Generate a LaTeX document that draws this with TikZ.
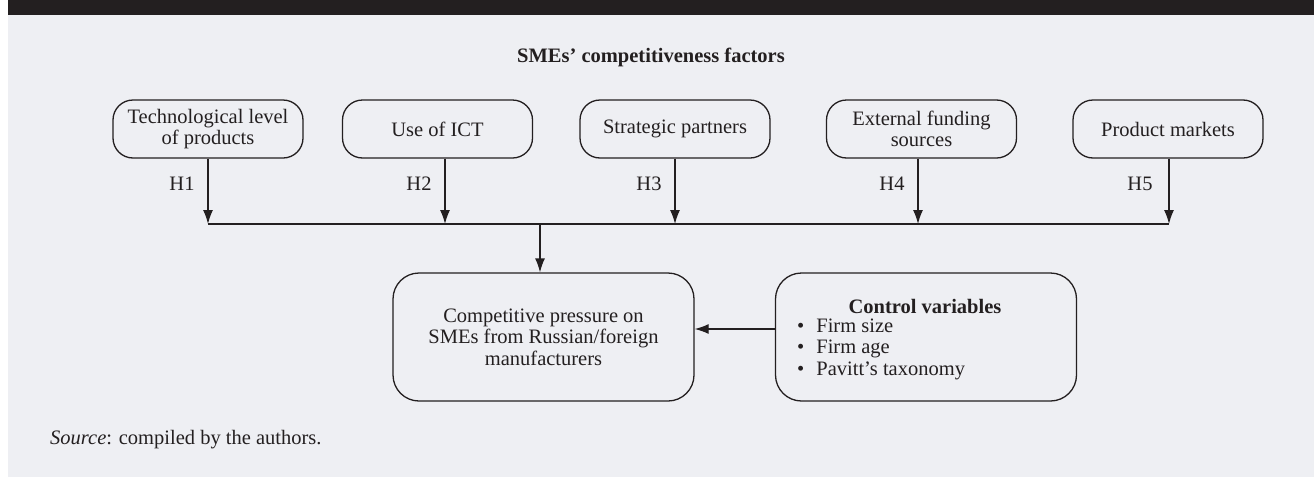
\documentclass[tikz,border=0pt]{standalone}
\usepackage{fontspec}
\setmainfont{Liberation Serif}
\usetikzlibrary{arrows.meta}
\definecolor{ink}{RGB}{35,31,32}
\definecolor{panel}{RGB}{238,239,243}
\begin{document}
\begin{tikzpicture}[x=1pt,y=-1pt,
  every node/.style={font=\fontsize{20.5}{21.5}\selectfont, text=ink},
  factor/.style={draw=ink, line width=1.3pt, rounded corners=20pt, minimum width=190pt, minimum height=58pt, align=center, inner sep=0pt},
  bigbox/.style={draw=ink, line width=1.3pt, rounded corners=26pt, minimum width=301pt, minimum height=128pt, align=center, inner sep=0pt},
  link/.style={draw=ink, line width=1.3pt},
  arr/.style={link, -{Latex[length=14pt,width=10pt]}},
  hyp/.style={anchor=center, inner sep=0pt}]
\useasboundingbox (0,0) rectangle (1314,477);
\fill[panel] (8,15) rectangle (1314,477);
\fill[ink] (8,0) rectangle (1314,15);

\node[font=\fontsize{20.5}{21.5}\selectfont\bfseries] (title) at (651,57) {SMEs’ competitiveness factors};

\node[factor] (b1) at (208,129) {Technological level\\of products};
\node[factor] (b2) at (437.5,129) {Use of ICT};
\node[factor] (b3) at (675,129) {Strategic partners};
\node[factor] (b4) at (921.5,129) {External funding\\sources};
\node[factor] (b5) at (1168,129) {Product markets};

\coordinate (j1) at (208,224);
\coordinate (j2) at (445,224);
\coordinate (j3) at (675,224);
\coordinate (j4) at (918,224);
\coordinate (j5) at (1169,224);
\coordinate (m) at (540,224);

\draw[arr] (b1.south -| j1) -- (j1);
\draw[arr] (b2.south -| j2) -- (j2);
\draw[arr] (b3.south -| j3) -- (j3);
\draw[arr] (b4.south -| j4) -- (j4);
\draw[arr] (b5.south -| j5) -- (j5);
\draw[link] (j1) -- (j5);

\node[hyp] (h1) at (182,184) {H1};
\node[hyp] (h2) at (419,184) {H2};
\node[hyp] (h3) at (649,184) {H3};
\node[hyp] (h4) at (892,184) {H4};
\node[hyp] (h5) at (1140,184) {H5};

\node[bigbox] (out) at (543.5,337) {Competitive pressure on\\SMEs from Russian/foreign\\manufacturers};
\node[bigbox] (ctrl) at (926,337) {};
\node[font=\fontsize{20.5}{21.5}\selectfont\bfseries] (ctitle) at (925,306) {Control variables};
\node[align=left, anchor=west, inner sep=0pt] (clist) at (797,349) {\textbullet\hspace{12pt}Firm size\\\textbullet\hspace{12pt}Firm age\\\textbullet\hspace{12pt}Pavitt’s taxonomy};

\draw[arr] (m) -- (m |- out.north);
\coordinate (ca) at (0,329);
\draw[arr] (ctrl.west |- ca) -- (out.east |- ca);

\node[anchor=west, inner sep=0pt] (src) at (50,440) {\textit{Source}: compiled by the authors.};
\end{tikzpicture}
\end{document}
